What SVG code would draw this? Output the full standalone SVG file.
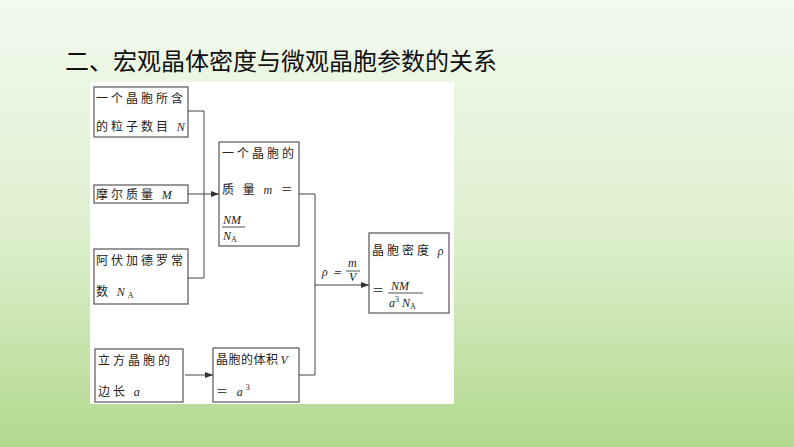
<svg xmlns="http://www.w3.org/2000/svg" width="794" height="447" viewBox="0 0 794 447">
<defs>
<linearGradient id="bg" x1="0" y1="0" x2="0" y2="1">
<stop offset="0" stop-color="#f2f9ee"/><stop offset="0.5" stop-color="#dff0d0"/><stop offset="1" stop-color="#b2d98e"/>
</linearGradient>
<marker id="ar" markerWidth="8" markerHeight="6" refX="8" refY="3" orient="auto" markerUnits="userSpaceOnUse"><path d="M0,0 L8,3 L0,6 Z" fill="#333"/></marker>
<style>
.b{fill:#fff;stroke:#555;stroke-width:1.2}
.t{font-family:"Noto Sans CJK SC","Liberation Serif",serif;font-size:12px;fill:#222;letter-spacing:3px}
.i{font-family:"Liberation Serif",serif;font-style:italic;font-size:12px;fill:#222}
.s{font-family:"Liberation Serif",serif;font-size:8px;fill:#222}
.c{fill:none;stroke:#444;stroke-width:1}
</style>
</defs>
<rect width="794" height="447" fill="url(#bg)"/>
<text x="65" y="70" font-family="Noto Sans CJK SC,sans-serif" font-size="24" fill="#111">二、宏观晶体密度与微观晶胞参数的关系</text>
<rect x="90" y="82" width="364" height="322" fill="#fff"/>
<g id="n1"><rect class="b" x="94" y="87" width="94" height="50"/><text class="t" x="96" y="103">一个晶胞所含</text><text class="t" x="96" y="131">的粒子数目 <tspan class="i">N</tspan></text></g>
<g id="n2"><rect class="b" x="94" y="185" width="94" height="18"/><text class="t" x="96" y="199">摩尔质量 <tspan class="i">M</tspan></text></g>
<g id="n3"><rect class="b" x="94" y="249" width="94" height="55"/><text class="t" x="96" y="265">阿伏加德罗常</text><text class="t" x="96" y="296">数 <tspan class="i">N</tspan><tspan class="s" dy="2">A</tspan></text></g>
<g id="n4"><rect class="b" x="95" y="349" width="88" height="53"/><text class="t" x="98" y="365">立方晶胞的</text><text class="t" x="98" y="396">边长 <tspan class="i">a</tspan></text></g>
<g id="n5"><rect class="b" x="219" y="142" width="80" height="104"/><text class="t" x="222" y="158">一个晶胞的</text><text class="t" x="222" y="194">质 量 <tspan class="i">m</tspan> ＝</text>
<text class="i" x="223" y="224">NM</text><line x1="222" y1="227" x2="245" y2="227" stroke="#222" stroke-width="0.8"/><text class="i" x="223" y="240">N<tspan class="s" font-style="normal" dy="2">A</tspan></text></g>
<g id="n6"><rect class="b" x="213" y="348" width="86" height="54"/><text class="t" x="216" y="364" style="letter-spacing:0.5px;font-size:12px">晶胞的体积<tspan class="i" dx="2">V</tspan></text><text class="t" x="216" y="396">＝ <tspan class="i">a</tspan><tspan class="s" dy="-6">3</tspan></text></g>
<g id="n7"><rect class="b" x="369" y="233" width="80" height="80"/><text class="t" x="372" y="255">晶胞密度 <tspan class="i">ρ</tspan></text>
<text class="t" x="372" y="295">＝</text><text class="i" x="391" y="290">NM</text><line x1="388" y1="293" x2="423" y2="293" stroke="#222" stroke-width="0.8"/><text class="i" x="389" y="307">a<tspan class="s" font-style="normal" dy="-5">3</tspan><tspan dy="5"> N</tspan><tspan class="s" font-style="normal" dy="2">A</tspan></text></g>
<g id="connectors">
<path class="c" d="M188,111 H204 V278 H188"/>
<line class="c" x1="188" y1="194" x2="219" y2="194" marker-end="url(#ar)"/>
<path class="c" d="M299,194 H315 V375 H299"/>
<line class="c" x1="315" y1="285" x2="369" y2="285" marker-end="url(#ar)"/>
<line class="c" x1="185" y1="375" x2="213" y2="375" marker-end="url(#ar)"/>
<text class="i" x="322" y="276">ρ ＝</text><text class="i" x="348" y="267" font-size="9">m</text><line x1="346" y1="271" x2="360" y2="271" stroke="#222" stroke-width="0.8"/><text class="i" x="349" y="281" font-size="9">V</text>
</g>
</svg>
